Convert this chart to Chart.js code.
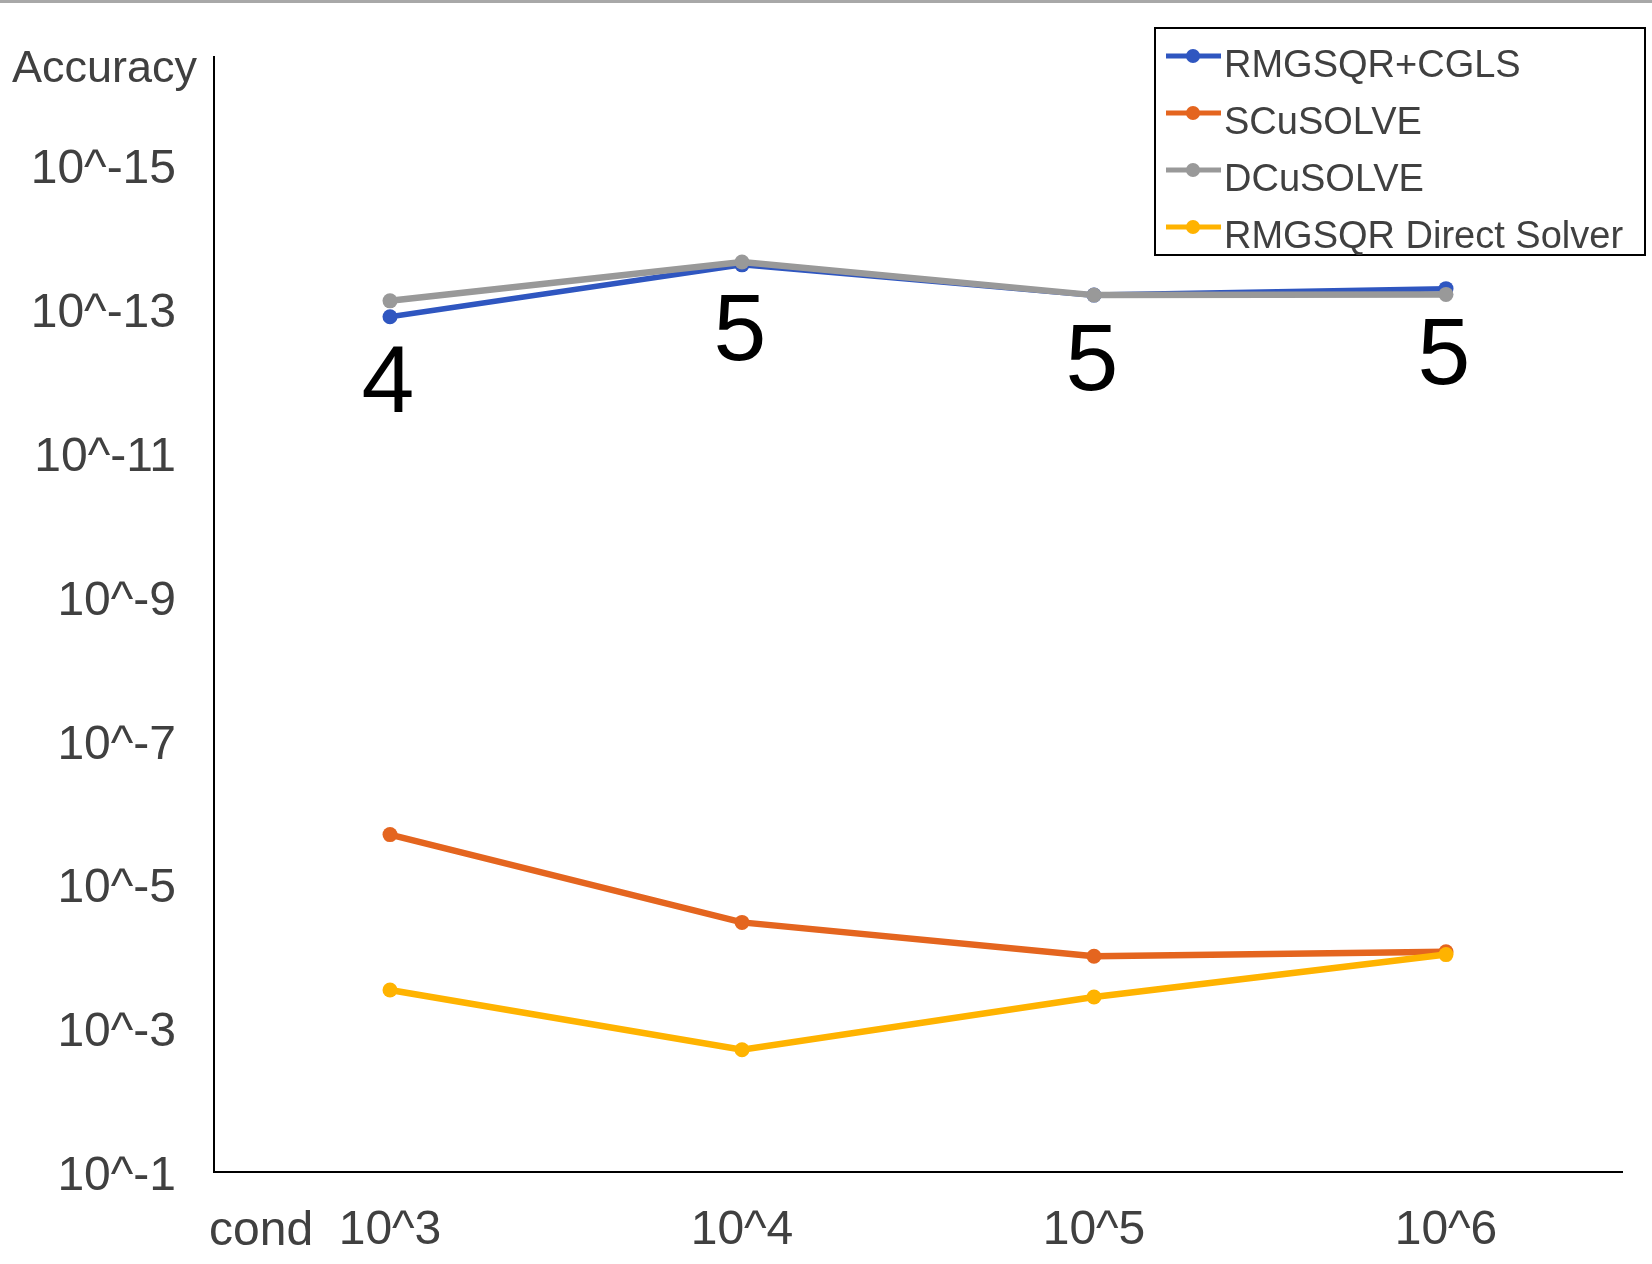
<!DOCTYPE html>
<html>
<head>
<meta charset="utf-8">
<script src="https://cdn.jsdelivr.net/npm/chart.js@4"></script>
<style>
  body { margin: 0; background: #fff; }
  #topLine { position: absolute; left: 0; top: 0; width: 1652px; height: 3px; background: #a8a8a8; }
  #accChart { display: block; }
</style>
</head>
<body>
<div id="topLine"></div>
<canvas id="accChart" width="1652" height="1264"></canvas>
<script>
  let categories = ['10^3', '10^4', '10^5', '10^6'];

  let rmgsqrCgls = [1.29e-13, 2.45e-14, 6.46e-14, 5.25e-14];
  let sCusolve = [2.04e-6, 3.39e-5, 1.0e-4, 8.7e-5];
  let dCusolve = [7.76e-14, 2.24e-14, 6.46e-14, 6.31e-14];
  let rmgsqrDirect = [2.95e-4, 2.0e-3, 3.7e-4, 9.5e-5];

  // iteration counts written under the RMGSQR+CGLS points
  let iterLabels = ['4', '5', '5', '5'];

  let tickExponents = [-1, -3, -5, -7, -9, -11, -13, -15];

  let fontFamily = '"Liberation Sans", Arial, sans-serif';
  let textColor = '#404040';

  function makeSeries(label, data, color, width, order) {
    return {
      label: label,
      data: data,
      borderColor: color,
      backgroundColor: color,
      pointBackgroundColor: color,
      pointBorderWidth: 0,
      pointRadius: 7.5,
      borderWidth: width,
      tension: 0,
      order: order
    };
  }

  let extraText = {
    id: 'extraText',
    afterDatasetsDraw(chart) {
      let ctx = chart.ctx;
      let area = chart.chartArea;
      ctx.save();

      // iteration labels
      let meta = chart.getDatasetMeta(0);
      ctx.fillStyle = '#000';
      ctx.font = '95px ' + fontFamily;
      ctx.textAlign = 'center';
      ctx.textBaseline = 'middle';
      meta.data.forEach((pt, i) => {
        ctx.fillText(iterLabels[i], pt.x - 2, pt.y + 69);
      });

      // axis names
      ctx.fillStyle = textColor;
      ctx.font = '45px ' + fontFamily;
      ctx.textAlign = 'right';
      ctx.textBaseline = 'alphabetic';
      ctx.fillText('Accuracy', area.left - 17, 82);

      ctx.font = '48px ' + fontFamily;
      ctx.textAlign = 'left';
      ctx.textBaseline = 'middle';
      ctx.fillText('cond', area.left - 5, 1232);

      // legend box
      let box = { x: 1155, y: 28, w: 490, h: 227 };
      ctx.strokeStyle = '#000';
      ctx.lineWidth = 2;
      ctx.strokeRect(box.x, box.y, box.w, box.h);

      let legendOrder = [0, 1, 2, 3];
      ctx.font = '38px ' + fontFamily;
      ctx.textAlign = 'left';
      ctx.textBaseline = 'alphabetic';
      legendOrder.forEach((idx, row) => {
        let ds = chart.data.datasets[idx];
        let y = 56 + row * 57;
        ctx.strokeStyle = ds.borderColor;
        ctx.lineWidth = 5;
        ctx.beginPath();
        ctx.moveTo(1166, y);
        ctx.lineTo(1221, y);
        ctx.stroke();
        ctx.fillStyle = ds.borderColor;
        ctx.beginPath();
        ctx.arc(1193, y, 7, 0, Math.PI * 2);
        ctx.fill();
        ctx.fillStyle = textColor;
        ctx.fillText(ds.label, 1224, y + 21);
      });

      ctx.restore();
    }
  };

  let ctx = document.getElementById('accChart').getContext('2d');
  let chart = new Chart(ctx, {
    type: 'line',
    data: {
      labels: categories,
      datasets: [
        makeSeries('RMGSQR+CGLS', rmgsqrCgls, '#2f56c0', 5.5, 4),
        makeSeries('SCuSOLVE', sCusolve, '#e4651f', 6.5, 3),
        makeSeries('DCuSOLVE', dCusolve, '#999999', 6.5, 2),
        makeSeries('RMGSQR Direct Solver', rmgsqrDirect, '#ffb300', 6.5, 1)
      ]
    },
    options: {
      responsive: false,
      animation: false,
      devicePixelRatio: 1,
      layout: {
        autoPadding: false,
        padding: { left: 0, top: 57, right: 30, bottom: 0 }
      },
      plugins: {
        legend: { display: false },
        tooltip: { enabled: false }
      },
      scales: {
        x: {
          type: 'category',
          offset: true,
          grid: { display: false, drawTicks: false },
          border: { display: true, color: '#000', width: 2 },
          ticks: {
            color: textColor,
            font: { size: 48, family: fontFamily },
            padding: 30,
            maxRotation: 0,
            autoSkip: false
          },
          afterFit(scale) {
            scale.height = 92;
          }
        },
        y: {
          type: 'logarithmic',
          reverse: true,
          min: Math.pow(10, -16.5),
          max: 0.1,
          grid: { display: false, drawTicks: false },
          border: { display: true, color: '#000', width: 2 },
          afterBuildTicks(scale) {
            scale.ticks = tickExponents.map(e => ({ value: Math.pow(10, e) }));
          },
          ticks: {
            color: textColor,
            font: { size: 48, family: fontFamily },
            padding: 38,
            labelOffset: 5,
            callback: (val) => '10^' + Math.round(Math.log10(val))
          },
          afterFit(scale) {
            scale.width = 214;
            // tick padding would otherwise push the plot top down
            scale.paddingTop = 0;
            scale.paddingBottom = 0;
          }
        }
      }
    },
    plugins: [extraText]
  });
</script>
</body>
</html>
